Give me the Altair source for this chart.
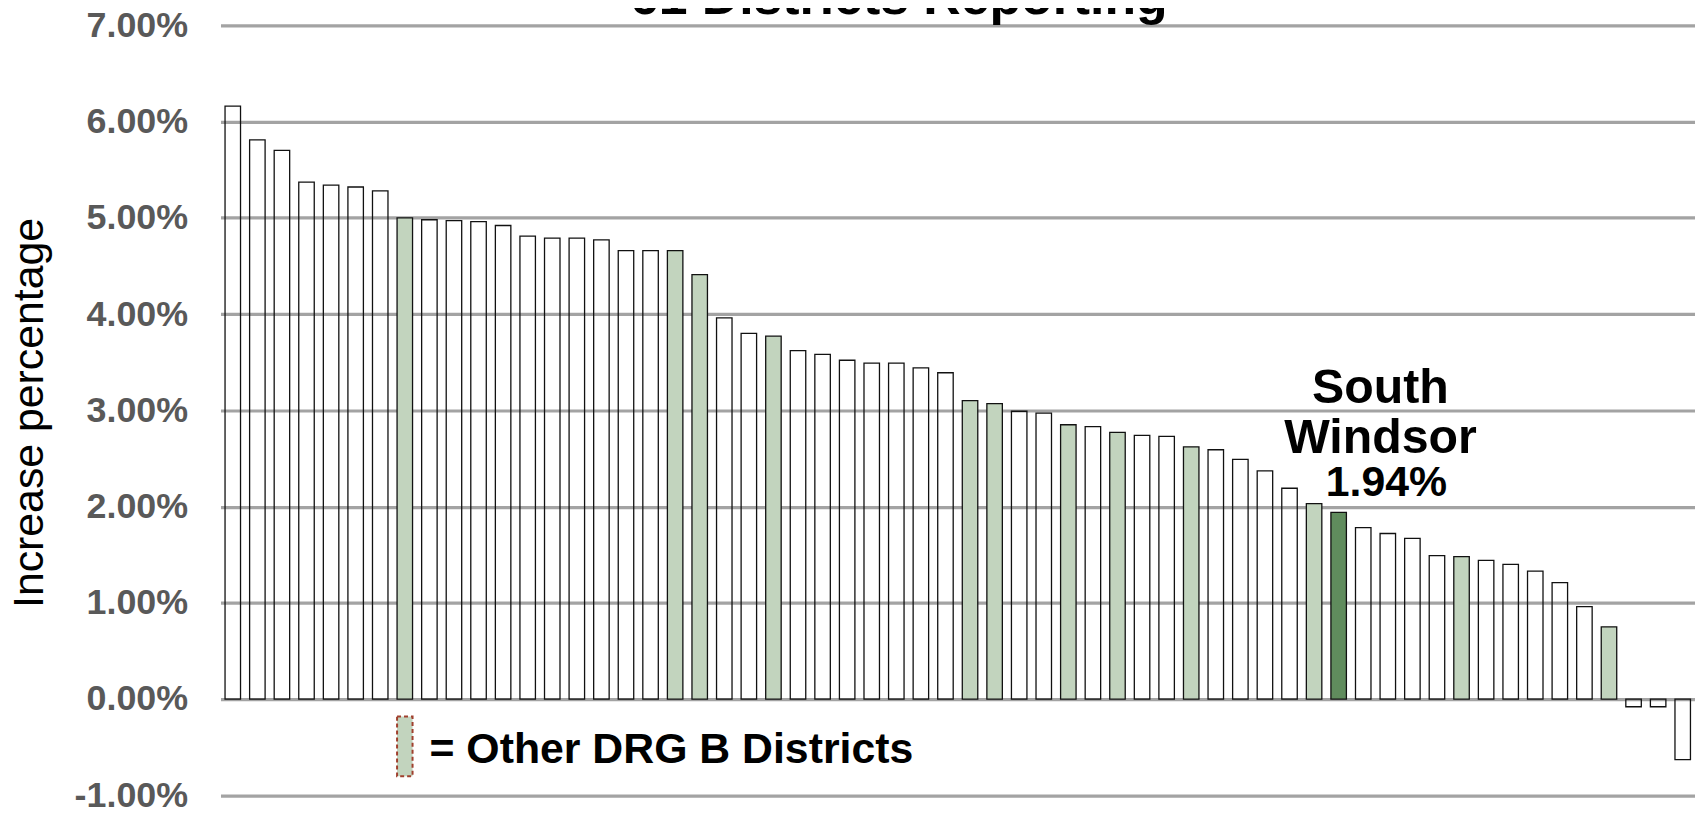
import altair as alt
import pandas as pd

# ---- data (percent increase, sorted) ----
values = [6.16, 5.81, 5.70, 5.37, 5.34, 5.32, 5.28, 5.00, 4.98, 4.97,
          4.96, 4.92, 4.81, 4.79, 4.79, 4.77, 4.66, 4.66, 4.66, 4.41,
          3.96, 3.80, 3.77, 3.62, 3.58, 3.52, 3.49, 3.49, 3.44, 3.39,
          3.10, 3.07, 2.99, 2.97, 2.85, 2.83, 2.77, 2.74, 2.73, 2.62,
          2.59, 2.49, 2.37, 2.19, 2.03, 1.94, 1.78, 1.72, 1.67, 1.49,
          1.48, 1.44, 1.40, 1.33, 1.21, 0.96, 0.75, -0.08, -0.08, -0.63]

# group of each district: other / drg (other DRG B) / sw (South Windsor)
groups = ["other"] * 7 + ["drg"] + ["other"] * 10 + ["drg", "drg"] + \
         ["other", "other", "drg"] + ["other"] * 7 + ["drg", "drg"] + \
         ["other", "other", "drg", "other", "drg", "other", "other", "drg"] + \
         ["other"] * 4 + ["drg", "sw"] + ["other"] * 4 + ["drg"] + \
         ["other"] * 5 + ["drg"] + ["other"] * 3

names = ["District %d" % (i + 1) for i in range(len(values))]
names[45] = "South Windsor"

y_ticks = [-1, 0, 1, 2, 3, 4, 5, 6, 7]
title_text = "61 Districts Reporting"
legend_text = "= Other DRG B Districts"
axis_title = "Increase percentage"

df = pd.DataFrame({"name": names, "value": values, "group": groups})
sw = df[df["group"] == "sw"]
legend_df = pd.DataFrame({"name": [names[7]], "label": [legend_text]})
title_df = pd.DataFrame({"label": [title_text]})

FONT = "Liberation Sans"
LIGHT = "#c2d4be"
DARK = "#608c5d"

W = 1481.5
H = 773.6

x_enc = alt.X("name:N", sort=None,
              scale=alt.Scale(paddingInner=0.37, paddingOuter=0.185),
              axis=None)

y_enc = alt.Y("value:Q",
              scale=alt.Scale(domain=[-1, 7], nice=False),
              axis=alt.Axis(values=y_ticks,
                            labelExpr="(datum.value < 0 ? '-' : '') + format(abs(datum.value), '.2f') + '%'",
                            labelFont=FONT, labelFontSize=36,
                            labelFontWeight="bold", labelColor="#595959",
                            labelPadding=33, ticks=False, tickSize=0,
                            domain=False, grid=True, gridColor="#a3a3a3",
                            gridWidth=3.2,
                            title=axis_title, titleFont=FONT,
                            titleFontSize=43, titleFontWeight="normal",
                            titleColor="#000000", titleAngle=270,
                            titleAlign="center", titleBaseline="middle",
                            titleX=-192, titleY=389))

bars = alt.Chart(df).mark_bar(stroke="#111111", strokeWidth=1.3).encode(
    x=x_enc,
    y=y_enc,
    fill=alt.Fill("group:N",
                  scale=alt.Scale(domain=["other", "drg", "sw"],
                                  range=["transparent", LIGHT, DARK]),
                  legend=None),
)

sw_base = alt.Chart(sw).encode(x=alt.X("name:N", sort=None), y="value:Q")
sw_pct = sw_base.transform_calculate(
    lbl="format(datum.value, '.2f') + '%'"
).mark_text(font=FONT, fontSize=43, fontWeight="bold", color="black",
            baseline="alphabetic", align="center", dx=48, dy=-16
            ).encode(text="lbl:N")
sw_l2 = sw_base.mark_text(font=FONT, fontSize=48.5, fontWeight="bold",
                          color="black", baseline="alphabetic",
                          align="center", dx=42, dy=-60
                          ).encode(text=alt.value("Windsor"))
sw_l1 = sw_base.mark_text(font=FONT, fontSize=48.5, fontWeight="bold",
                          color="black", baseline="alphabetic",
                          align="center", dx=42, dy=-110
                          ).encode(text=alt.value("South"))

swatch = alt.Chart(legend_df).mark_bar(
    fill=LIGHT, stroke="#a0402e", strokeDash=[4, 3], strokeWidth=2
).encode(x=alt.X("name:N", sort=None), y=alt.value(694.5), y2=alt.value(754.5))

legend_lbl = alt.Chart(legend_df).mark_text(
    font=FONT, fontSize=43, fontWeight="bold", color="black",
    align="left", baseline="alphabetic"
).encode(x=alt.value(210), y=alt.value(741.5), text="label:N")

title_mark = alt.Chart(title_df).mark_text(
    font=FONT, fontSize=52, fontWeight="bold", color="black",
    align="center", baseline="alphabetic"
).encode(x=alt.value(681.5), y=alt.value(-11), text="label:N")

chart = alt.layer(bars, swatch, legend_lbl, sw_pct, sw_l2, sw_l1,
                  title_mark).properties(
    width=W, height=H,
    autosize=alt.AutoSizeParams(type="none"),
    padding={"left": 213.5, "top": 15.5, "right": 0, "bottom": 16},
    background="white",
).configure_view(stroke=None)

chart.save("out.html", embed_options={"renderer": "svg", "actions": False})
